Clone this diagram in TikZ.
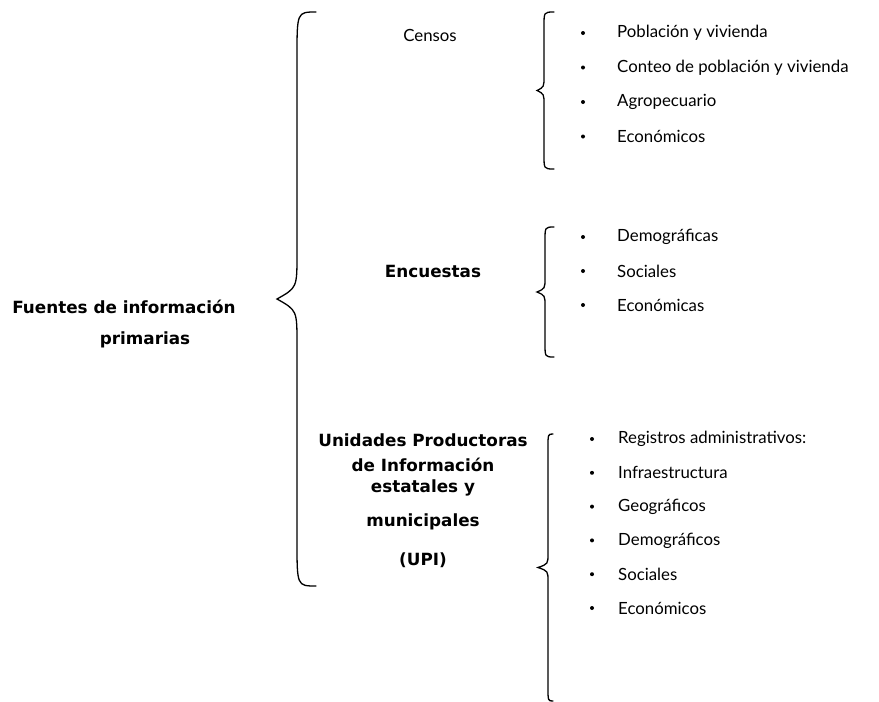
\documentclass[tikz,border=0pt]{standalone}
\usepackage{fontspec}
\setmainfont{Lato}
\newfontfamily\negrita{DejaVu Sans}
\usepackage{tikz}

% llave: x linea, x punta, x extremo, arriba, abajo, radio
\newcommand{\llave}[6]{%
  \pgfmathsetmacro{\mid}{(#4+#5)/2}
  \draw[llaveline] (#3,#4) .. controls (#1,#4) .. (#1,{#4+#6})
    -- (#1,{\mid-#6}) .. controls (#1,{\mid-0.25*#6}) .. (#2,\mid)
    .. controls (#1,{\mid+0.25*#6}) .. (#1,{\mid+#6})
    -- (#1,{#5-#6}) .. controls (#1,#5) .. (#3,#5);
}

\begin{document}
\begin{tikzpicture}[x=1pt,y=-1pt,
    every node/.style={font=\fontsize{16.8}{19}\selectfont,inner sep=0pt},
    titulo/.style={font=\fontsize{16.8}{19}\selectfont\negrita\bfseries},
    item/.style={anchor=west},
    llaveline/.style={line width=1.3pt,line cap=round}]
	\useasboundingbox (0,0) rectangle (879,702);

	% raiz
	\node[titulo] (fuentes) at (124,307) {Fuentes de información};
	\node[titulo] (primarias) at (145,340) {primarias};
	\llave{297}{277}{316}{12}{586}{45}

	% censos
	\node (censos) at (430,35) {Censos};
	\llave{544}{537}{554}{12}{169}{14}
	\foreach \t [count=\i] in {Población y vivienda,Conteo de población y vivienda,Agropecuario,Económicos}{
		\node[item] (cen\i) at (617,{33+34.5*(\i-1)}) {\t};
		\fill (583,{33+34.5*(\i-1)}) circle (2);
	}

	% encuestas
	\node[titulo] (encuestas) at (433,271) {Encuestas};
	\llave{545}{537}{554}{227}{357}{14}
	\foreach \t [count=\i] in {Demográficas,Sociales,Económicas}{
		\node[item] (enc\i) at (617,{237+34*(\i-1)}) {\t};
		\fill (583,{237+34*(\i-1)}) circle (2);
	}

	% UPI
	\foreach \y/\t [count=\i] in {440/Unidades Productoras,465/de Información,488/estatales y,522/municipales,560/(UPI)}
		\node[titulo] (upi\i) at (423,\y) {\t};
	\llave{548}{538}{553}{434}{701}{14}
	\foreach \t [count=\i] in {Registros administrativos:,Infraestructura,Geográficos,Demográficos,Sociales,Económicos}{
		\node[item] (reg\i) at (618,{439+33.8*(\i-1)}) {\t};
		\fill (592,{439+33.8*(\i-1)}) circle (2);
	}
\end{tikzpicture}
\end{document}
